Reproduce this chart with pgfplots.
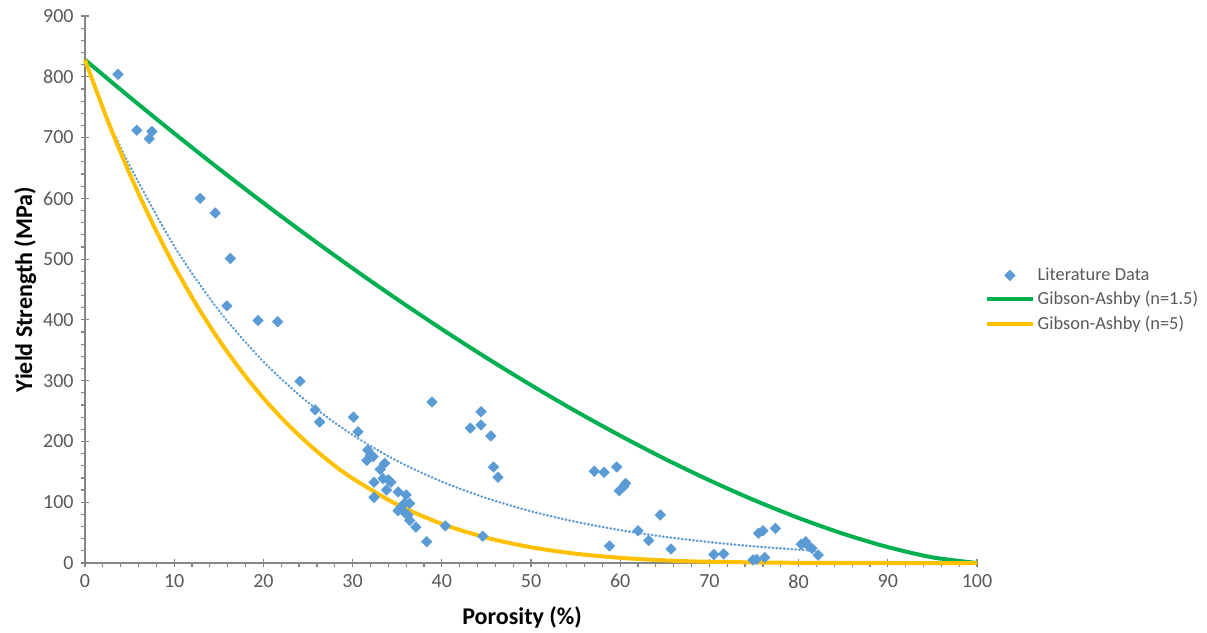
\documentclass[border=0pt]{standalone}
\usepackage{fontspec}
\setmainfont{Carlito}
\usepackage{pgfplots}
\pgfplotsset{compat=1.18}
\definecolor{ga15}{HTML}{00B050}
\definecolor{ga5}{HTML}{FFC000}
\definecolor{litblue}{HTML}{5B9BD5}
\definecolor{axgray}{HTML}{868686}
\definecolor{txtgray}{HTML}{595959}
\pgfplotsset{
  lineleg/.style={legend image code/.code={\draw[##1] (0cm,0cm) -- (0.8cm,0cm);}},
  markleg/.style={legend image code/.code={\draw[##1] plot coordinates {(0.4cm,0cm)};}},
}
\begin{document}
\begin{tikzpicture}
\useasboundingbox (-42.5pt,-35pt) rectangle (561pt,281.5pt);
\begin{axis}[
  at={(0,0)}, anchor=south west,
  scale only axis, width=446pt, height=273.5pt,
  xmin=0, xmax=100, ymin=0, ymax=900,
  xtick={0,10,...,100}, ytick={0,100,...,900},
  minor x tick num=4, minor y tick num=4,
  extra x ticks={0,10,...,100}, extra x tick labels={},
  extra y ticks={0,100,...,900}, extra y tick labels={},
  extra tick style={tick align=inside},
  axis lines=left, axis line style={-, axgray, line width=0.8pt},
  tick align=outside, major tick length=2.2pt, minor tick length=2.2pt,
  tick style={axgray, line width=0.6pt},
  /pgf/number format/assume math mode=true,
  tick label style={font=\fontsize{10}{12}\selectfont, text=txtgray},
  xlabel={\textbf{Porosity (\%)}},
  ylabel={\textbf{Yield Strength (MPa)}},
  xlabel style={font=\fontsize{12}{14}\selectfont, at={(axis description cs:0.49,0)}, anchor=center, yshift=-27pt},
  ylabel style={font=\fontsize{12}{14}\selectfont, at={(axis description cs:-0.067,0.5)}, anchor=center},
  legend style={at={(1.002,0.481)}, anchor=west, draw=none, fill=none,
     font=\fontsize{9.2}{11}\selectfont, text=txtgray, row sep=2pt,
     nodes={inner xsep=1.5pt, inner ysep=1pt}},
  legend cell align=left,
  clip=false,
]
\addlegendimage{only marks, mark=square*, mark size=1.8pt, mark options={rotate=45, fill=litblue, draw=litblue}, markleg}
\addlegendentry{Literature Data}
\addlegendimage{ga15, line width=2pt, lineleg}
\addlegendentry{Gibson-Ashby (n=1.5)}
\addlegendimage{ga5, line width=2pt, lineleg}
\addlegendentry{Gibson-Ashby (n=5)}

% exponential trend line
\addplot[forget plot, litblue, line width=1.2pt, line cap=round, dash pattern=on 0.3pt off 1.6pt, smooth] coordinates {
(3.5,700) (5,653.8) (10,521.3) (15,415.6) (20,331.4) (25,264.2) (30,210.7) (35,167.9)
(40,133.9) (45,106.8) (50,85.1) (55,67.9) (60,54.1) (65,43.1) (70,34.4) (75,27.4) (80,21.9) (82,20.0)};

% Gibson-Ashby n=1.5
\addplot[forget plot, ga15, line width=2pt, smooth] coordinates {
(0,828) (5,766.7) (10,707.0) (15,648.9) (20,592.5) (25,537.8) (30,484.9) (35,433.9) (40,384.8)
(45,337.7) (50,292.7) (55,249.9) (60,209.5) (65,171.4) (70,136.1) (75,103.5) (80,74.1)
(85,48.1) (90,26.2) (95,9.3) (100,0)};

% Gibson-Ashby n=5
\addplot[forget plot, ga5, line width=2pt, smooth] coordinates {
(0,828) (2.5,729.6) (5,640.7) (7.5,561.0) (10,488.9) (12.5,424.7) (15,367.4) (17.5,316.6)
(20,271.3) (22.5,231.5) (25,196.5) (27.5,165.8) (30,139.2) (35,96.1) (40,64.4) (45,41.7)
(50,25.9) (55,15.3) (60,8.5) (65,4.3) (70,2.0) (80,0.3) (90,0) (100,0)};

% literature data
\addplot[forget plot, only marks, mark=square*, mark size=1.8pt, mark options={rotate=45, fill=litblue, draw=litblue}] coordinates {
(3.7,804) (5.8,712) (7.2,698) (7.5,710) (12.9,600) (14.6,576) (16.3,501) (15.9,423)
(19.4,399) (21.6,397) (24.1,299) (25.8,252) (26.3,232) (30.1,240) (30.6,216)
(38.9,265) (31.7,186) (32.0,178) (32.3,175) (31.6,169) (33.6,164) (33.1,154)
(32.4,133) (33.4,139) (34.0,137) (34.3,133) (33.8,120) (32.4,108) (35.1,117)
(36.0,112) (36.4,98) (35.8,98) (35.3,90) (35.1,86) (35.9,82) (36.2,79) (36.4,70)
(37.1,59) (38.3,35) (40.4,61) (44.6,44)
(44.4,249) (43.2,222) (44.4,227) (45.5,209) (45.8,158) (46.3,141)
(57.1,151) (58.2,149) (59.6,158) (60.6,131) (60.4,126) (59.9,119) (64.5,79)
(62.0,53) (63.2,37) (58.8,28) (65.7,23) (70.5,14)
(71.6,15) (75.5,49) (76.0,53) (77.4,57) (74.9,5) (75.3,6) (76.2,9)
(80.3,31) (80.8,35) (81.1,28) (81.5,24) (82.2,13)};
\end{axis}
\end{tikzpicture}
\end{document}
